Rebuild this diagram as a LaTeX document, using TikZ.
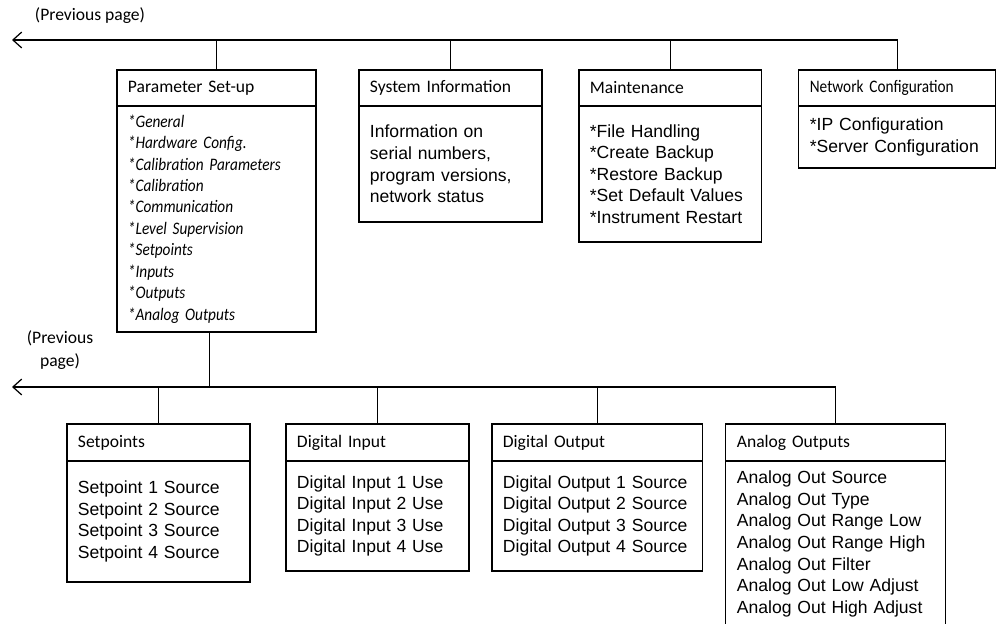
\documentclass[tikz,border=0pt]{standalone}
\usepackage{fontspec}
\setmainfont{Liberation Sans}
\newfontfamily\hdrfont{Carlito}
\newfontfamily\narrowfont[FakeStretch=0.87]{Carlito}
\usepackage{tikz}
\usetikzlibrary{positioning}
\usetikzlibrary{arrows.meta}
\tikzstyle{head} = [rectangle, draw, line width=0.7pt, outer sep=0pt,
    inner xsep=0.22cm, minimum height=0.72cm, align=left,
    font=\hdrfont\fontsize{10}{12}\selectfont]
\tikzstyle{body} = [rectangle, draw, line width=0.7pt, outer sep=0pt,
    inner xsep=0.22cm, align=left, font=\fontsize{10}{12.3}\selectfont]
\tikzstyle{edge} = [draw, line width=0.7pt]
\tikzstyle{line} = [draw, line width=0.7pt, -{Straight Barb[length=5pt,width=9pt]}]
\tikzstyle{note} = [font=\hdrfont\fontsize{10}{13.5}\selectfont, align=center]

\begin{document}
\begin{tikzpicture}[x=0.02cm, y=-0.02cm]
  \useasboundingbox (0,0) rectangle (997,624);

  % Place nodes (upper row)
  \node [head, text width=3.54cm, anchor=north west] (paramhdr) at (117,70) {Parameter Set-up};
  \node [body, text width=3.54cm, minimum height=4.52cm, below=0pt of paramhdr,
         font=\narrowfont\itshape\fontsize{10}{12.2}\selectfont] (parambody)
        {*General\\{}*Hardware Config.\\{}*Calibration Parameters\\{}*Calibration\\{}*Communication\\{}
         *Level Supervision\\{}*Setpoints\\{}*Inputs\\{}*Outputs\\{}*Analog Outputs};
  \node [head, text width=3.22cm, right=0.86cm of paramhdr] (syshdr) {System Information};
  \node [body, text width=3.22cm, minimum height=2.32cm, below=0pt of syshdr] (sysbody)
        {Information on\\serial numbers,\\program versions,\\network status};
  \node [head, text width=3.22cm, right=0.74cm of syshdr] (mainthdr) {Maintenance};
  \node [body, text width=3.22cm, minimum height=2.72cm, below=0pt of mainthdr] (maintbody)
        {*File Handling\\{}*Create Backup\\{}*Restore Backup\\{}*Set Default Values\\{}*Instrument Restart};
  \node [head, text width=3.50cm, right=0.74cm of mainthdr,
         font=\narrowfont\fontsize{10}{12}\selectfont] (nethdr) {Network Configuration};
  \node [body, text width=3.50cm, minimum height=1.24cm, below=0pt of nethdr] (netbody)
        {*IP Configuration\\{}*Server Configuration};

  % Place nodes (lower row)
  \node [head, text width=3.22cm, minimum height=0.74cm, anchor=north west] (setphdr) at (67,424) {Setpoints};
  \node [body, text width=3.22cm, minimum height=2.42cm, below=0pt of setphdr] (setpbody)
        {Setpoint 1 Source\\Setpoint 2 Source\\Setpoint 3 Source\\Setpoint 4 Source};
  \node [head, text width=3.22cm, minimum height=0.74cm, right=0.72cm of setphdr] (dinhdr) {Digital Input};
  \node [body, text width=3.22cm, minimum height=2.2cm, below=0pt of dinhdr] (dinbody)
        {Digital Input 1 Use\\Digital Input 2 Use\\Digital Input 3 Use\\Digital Input 4 Use};
  \node [head, text width=3.78cm, minimum height=0.74cm, right=0.46cm of dinhdr] (douthdr) {Digital Output};
  \node [body, text width=3.78cm, minimum height=2.2cm, below=0pt of douthdr] (doutbody)
        {Digital Output 1 Source\\Digital Output 2 Source\\Digital Output 3 Source\\Digital Output 4 Source};
  \node [head, text width=3.96cm, minimum height=0.74cm, right=0.46cm of douthdr] (aouthdr) {Analog Outputs};
  \node [body, text width=3.96cm, minimum height=3.32cm, below=0pt of aouthdr] (aoutbody)
        {Analog Out Source\\Analog Out Type\\Analog Out Range Low\\Analog Out Range High\\
         Analog Out Filter\\Analog Out Low Adjust\\Analog Out High Adjust};

  % Links back to the previous page
  \coordinate (prevtop) at (12,40);
  \coordinate (prevbot) at (12,387);
  \node [note] (prevtoplbl) at (90,16) {(Previous page)};
  \node [note] (prevbotlbl) at (60,350) {(Previous\\page)};

  % Draw edges
  \path [line] (nethdr.north) |- (prevtop);
  \foreach \n in {paramhdr, syshdr, mainthdr}
    \path [edge] (\n.north) -- (\n.north |- prevtop);
  \path [line] (aouthdr.north) |- (prevbot);
  \foreach \n in {setphdr, dinhdr, douthdr}
    \path [edge] (\n.north) -- (\n.north |- prevbot);
  \coordinate (pdrop) at ([xshift=-0.14cm]parambody.south);
  \path [edge] (pdrop) -- (pdrop |- prevbot);
\end{tikzpicture}
\end{document}
